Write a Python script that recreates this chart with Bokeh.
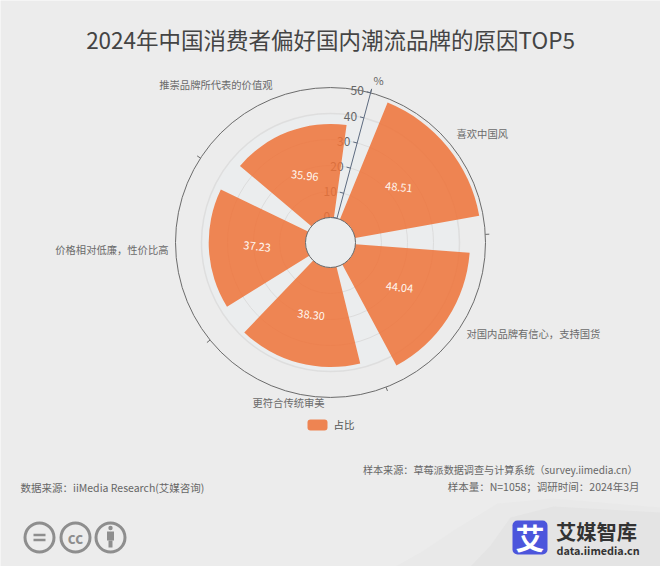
import math
from bokeh.plotting import figure
from bokeh.models import BoxAnnotation
from bokeh.core.properties import value as V
from bokeh.embed import file_html
from bokeh.resources import INLINE

title_text = "2024年中国消费者偏好国内潮流品牌的原因TOP5"
categories = ["喜欢中国风", "对国内品牌有信心，支持国货", "更符合传统审美", "价格相对低廉，性价比高", "推崇品牌所代表的价值观"]
values = [48.51, 44.04, 38.30, 37.23, 35.96]
radial_ticks = [0, 10, 20, 30, 40, 50]
legend_name = "占比"
unit_name = "%"
source_left = "数据来源：iiMedia Research(艾媒咨询)"
source_right = ["样本来源：草莓派数据调查与计算系统（survey.iimedia.cn）", "样本量：N=1058；调研时间：2024年3月"]
brand_cn = "艾媒智库"
brand_url = "data.iimedia.cn"

# ---- layout
W, H = 660, 566
PX = 2.6            # pixels per percent
CX, CY = 330, 242   # polar centre in page pixels
HOLE = 25 / PX      # radial offset of value 0
START = 15          # start angle of polar axis, clockwise from top
STEP = 360 / len(values)
BARW = STEP * 0.8
BG = "#ececec"
FONT = V("Noto Sans CJK SC")

def X(px): return (px - CX) / PX
def Y(py): return (CY - py) / PX
def pol(v, deg, extra=0):
    r = v + HOLE + extra / PX
    t = math.radians(deg)
    return r * math.sin(t), r * math.cos(t)

p = figure(width=W, height=H, output_backend="svg", toolbar_location=None,
           x_range=(X(0), X(W)), y_range=(Y(H), Y(0)),
           min_border=0, background_fill_color=BG, border_fill_color=BG, outline_line_color=None)
p.axis.visible = False
p.grid.visible = False

def text(px, py, s, size, color="#6a6a6a", align="left", base="middle", angle=0, style="normal", level="glyph"):
    p.text([X(px)], [Y(py)], text=[s], text_font=FONT, text_font_size=f"{size}px", text_color=color,
           text_align=align, text_baseline=base, angle=angle, angle_units="deg", text_font_style=style, level=level)

# ---- corner swoosh
p.patch([X(v) for v in (395, 420, 453, 497, 553, 660, 660)], [Y(v) for v in (566, 552, 530, 503, 498, 507, 566)],
        fill_color="#e9e9e9", line_color=None)
p.patch([X(v) for v in (470, 490, 510, 553, 660, 660)], [Y(v) for v in (566, 545, 517, 506, 512, 566)],
        fill_color="#e4e4e4", line_color=None)

# ---- polar grid
p.circle([0], [0], radius=radial_ticks[-2] + HOLE, fill_color="#ebedee", line_color="#dedede", line_width=1.5)
for t in radial_ticks[1:-2]:
    p.circle([0], [0], radius=t + HOLE, fill_color=None, line_color="#dcdcdc", line_width=1)
p.circle([0], [0], radius=radial_ticks[-1] + HOLE, fill_color=None, line_color="#6b6b6b", line_width=1)

for i in range(len(values)):
    deg = START + STEP * i
    a = pol(radial_ticks[-1], deg)
    b = pol(radial_ticks[-1], deg, 4)
    p.line([a[0], b[0]], [a[1], b[1]], line_color="#6b6b6b", line_width=1)

# ---- radial axis labels (under the bars)
perp = math.radians(START - 90)
for t in radial_ticks:
    x0, y0 = pol(t, START)
    p.text([x0 + 7 / PX * math.sin(perp)], [y0 + 7 / PX * math.cos(perp)], text=[str(t)], text_font=FONT,
           text_font_size="12px", text_color="#666666", text_align="right", text_baseline="middle")

# ---- bars
starts = [math.radians(90 - (START + STEP * (i + 0.5)) - BARW / 2) for i in range(len(values))]
ends = [math.radians(90 - (START + STEP * (i + 0.5)) + BARW / 2) for i in range(len(values))]
p.annular_wedge(x=[0] * len(values), y=[0] * len(values), inner_radius=[HOLE] * len(values),
                outer_radius=[v + HOLE for v in values], start_angle=starts, end_angle=ends,
                fill_color="#ef7237", fill_alpha=0.85, line_color=None)

# ---- axis line, ticks and hole ring
p.circle([0], [0], radius=HOLE, fill_color="#ebedee", line_color="#666666", line_width=1)
a = pol(radial_ticks[0], START)
b = pol(radial_ticks[-1], START, 4)
p.line([a[0], b[0]], [a[1], b[1]], line_color="#5d6b80", line_width=1)
for t in radial_ticks:
    x0, y0 = pol(t, START)
    p.line([x0, x0 + 4 / PX * math.sin(perp)], [y0, y0 + 4 / PX * math.cos(perp)], line_color="#5d6b80", line_width=1)
text(378, 79, unit_name, 11, "#666666", "center")

# ---- value labels
for i, v in enumerate(values):
    x, y = pol(v / 2, START + STEP * (i + 0.5))
    p.text([x], [y], text=[f"{v:.2f}"], text_font=FONT, text_font_size="11px", text_color="#fff6ee",
           text_align="center", text_baseline="middle", angle=-6, angle_units="deg")

# ---- category labels
cat_pos = [(456, 133, "left"), (466, 333, "left"), (252, 402, "left"), (168, 249, "right"), (272, 84, "right")]
for s, (x, y, al) in zip(categories, cat_pos):
    text(x, y, s, 10.3, "#6a6a6a", al)

# ---- title, legend, footer
text(330, 38, title_text, 22.5, "#444444", "center")
p.add_layout(BoxAnnotation(left=X(307), right=X(327), bottom=Y(430), top=Y(419), fill_color="#ee8452",
                           fill_alpha=1, line_color=None, border_radius=3))
text(333, 424, legend_name, 10.5, "#555555")
text(20, 487, source_left, 10.5, "#666666")
text(637, 469, source_right[0], 10.1, "#666666", "right")
text(639, 486, source_right[1], 10.5, "#666666", "right")

# ---- licence icons
for cx in (39, 75, 110):
    p.circle([X(cx)], [Y(537)], radius=14.5 / PX, fill_color=None, line_color="#8e8e8e", line_width=3)
for yy in (534.5, 539.5):
    p.line([X(33), X(45)], [Y(yy), Y(yy)], line_color="#8e8e8e", line_width=2.5)
text(75, 536.5, "cc", 15, "#8e8e8e", "center", style="bold")
p.circle([X(110)], [Y(527.5)], radius=2.2 / PX, fill_color="#8e8e8e", line_color=None)
p.quad(left=[X(106.5)], right=[X(113.5)], top=[Y(531)], bottom=[Y(540)], fill_color="#8e8e8e", line_color=None)
p.quad(left=[X(108)], right=[X(112)], top=[Y(540)], bottom=[Y(547)], fill_color="#8e8e8e", line_color=None)

# ---- brand
p.add_layout(BoxAnnotation(left=X(512), right=X(547), bottom=Y(554), top=Y(520), fill_color="#4c55dc",
                           fill_alpha=1, line_color=None, border_radius=5))
text(529.5, 536.5, brand_cn[0], 29, "#ffffff", "center", style="bold", level="overlay")
text(555.5, 530.5, brand_cn, 20.3, "#333333", style="bold")
text(556, 549, brand_url, 10.8, "#333333", style="bold")

open("out.html", "w").write(file_html(p, INLINE))
